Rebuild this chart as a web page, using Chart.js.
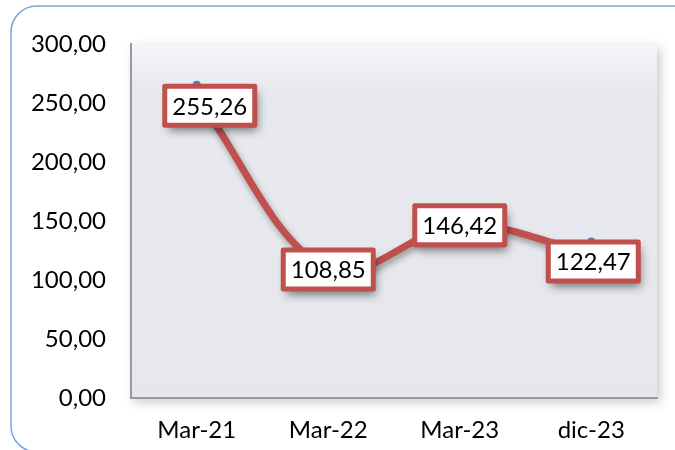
<!DOCTYPE html>
<html>
<head>
<meta charset="utf-8">
<script src="https://cdn.jsdelivr.net/npm/chart.js@4/dist/chart.umd.min.js"></script>
<style>
  html, body { margin: 0; padding: 0; background: #fff; }
  #wrap { width: 675px; height: 450px; position: relative; }
</style>
</head>
<body>
<div id="wrap"><canvas id="c" width="675" height="450"></canvas></div>
<script>
const categories = ['Mar-21', 'Mar-22', 'Mar-23', 'dic-23'];
const values = [255.26, 108.85, 146.42, 122.47];
const yMin = 0;
const yMax = 300;
const yStep = 50;

const fmt = v => v.toFixed(2).replace('.', ',');
const FONT = 'Lato, "Open Sans", sans-serif';
const RED = '#c0504d';

const framePlugin = {
  id: 'frame',
  beforeDraw(chart) {
    const ctx = chart.ctx;
    const a = chart.chartArea;
    ctx.save();
    ctx.strokeStyle = '#7fa3d8';
    ctx.lineWidth = 1.5;
    ctx.beginPath();
    ctx.roundRect(11, 6, 690, 446, 26);
    ctx.stroke();
    ctx.shadowColor = 'rgba(0,0,0,0.22)';
    ctx.shadowBlur = 10;
    ctx.shadowOffsetX = 3;
    ctx.shadowOffsetY = 4;
    const g = ctx.createLinearGradient(0, a.top, 0, a.bottom);
    g.addColorStop(0, '#f5f6f9');
    g.addColorStop(0.12, '#e8e9ee');
    g.addColorStop(1, '#e6e7ec');
    ctx.fillStyle = g;
    ctx.fillRect(a.left, a.top, a.right - a.left, a.bottom - a.top);
    ctx.restore();
  }
};

const lineShadow = {
  id: 'lineShadow',
  beforeDatasetsDraw(chart) {
    const ctx = chart.ctx;
    ctx.save();
    ctx.shadowColor = 'rgba(0,0,0,0.35)';
    ctx.shadowBlur = 6;
    ctx.shadowOffsetX = 2;
    ctx.shadowOffsetY = 4;
  },
  afterDatasetsDraw(chart) {
    chart.ctx.restore();
  }
};

const labelPlugin = {
  id: 'boxLabels',
  afterDraw(chart, args, opts) {
    const ctx = chart.ctx;
    const meta = chart.getDatasetMeta(0);
    const offs = opts.offsets || [];
    ctx.save();
    ctx.fillStyle = '#4f81bd';
    meta.data.forEach(p => {
      ctx.beginPath();
      ctx.arc(p.x, p.y - 12, 4, 0, Math.PI * 2);
      ctx.fill();
    });
    ctx.restore();
    meta.data.forEach((p, i) => {
      const o = offs[i] || [0, 0];
      const cx = p.x + o[0];
      const cy = p.y + o[1];
      const w = 90, h = 39;
      ctx.save();
      ctx.shadowColor = 'rgba(0,0,0,0.5)';
      ctx.shadowBlur = 9;
      ctx.shadowOffsetX = 3;
      ctx.shadowOffsetY = 6;
      ctx.fillStyle = '#ffffff';
      ctx.strokeStyle = RED;
      ctx.lineWidth = 5;
      ctx.lineJoin = 'round';
      ctx.beginPath();
      ctx.rect(cx - w / 2, cy - h / 2, w, h);
      ctx.fill();
      ctx.shadowColor = 'transparent';
      ctx.stroke();
      ctx.fillStyle = '#000';
      ctx.font = '24px ' + FONT;
      ctx.textAlign = 'center';
      ctx.textBaseline = 'middle';
      ctx.fillText(fmt(values[i]), cx, cy + 1);
      ctx.restore();
    });
  }
};

new Chart(document.getElementById('c'), {
  type: 'line',
  data: {
    labels: categories,
    datasets: [{
      data: values,
      borderColor: RED,
      borderWidth: 7,
      tension: 0.35,
      pointRadius: 0,
      fill: false,
      borderCapStyle: 'round',
      borderJoinStyle: 'round'
    }]
  },
  options: {
    responsive: false,
    animation: false,
    devicePixelRatio: 1,
    layout: { padding: { left: 0, right: 18, top: 44, bottom: 0 } },
    plugins: {
      legend: { display: false },
      tooltip: { enabled: false },
      boxLabels: { offsets: [[13, 9], [0, 0], [0, 0], [2, 8]] }
    },
    scales: {
      x: {
        offset: true,
        grid: { display: false, drawTicks: false },
        border: { display: true, color: '#9a9a9a', width: 2 },
        ticks: { color: '#000', font: { family: FONT, size: 24 }, padding: 18, maxRotation: 0 },
        afterFit(s) { s.height = 52; }
      },
      y: {
        min: yMin,
        max: yMax,
        grid: { display: false, drawTicks: false },
        border: { display: true, color: '#9a9a9a', width: 2 },
        ticks: {
          stepSize: yStep,
          color: '#000',
          font: { family: FONT, size: 24 },
          padding: 25,
          callback: v => fmt(v)
        },
        afterFit(s) { s.width = 131; }
      }
    }
  },
  plugins: [framePlugin, lineShadow, labelPlugin]
});
</script>
</body>
</html>
